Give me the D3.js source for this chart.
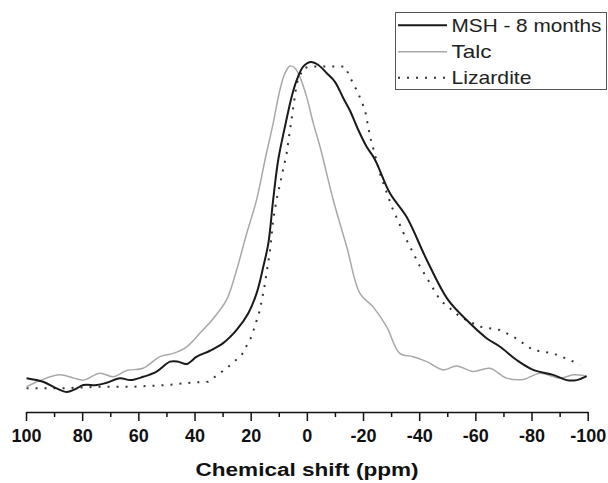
<!DOCTYPE html>
<html>
<head>
<meta charset="utf-8">
<script src="https://cdn.jsdelivr.net/npm/d3@7"></script>
<style>
  body { margin: 0; background: #fff; }
  svg { display: block; font-family: Arial, "Liberation Sans", sans-serif; }
</style>
</head>
<body>
<div id="chart"></div>
<script>
// chemical shift (ppm) and relative intensity for each spectrum
const mshShift = [99.8, 93.9, 89.1, 85.5, 82.6, 79.6, 74.8, 71.3, 66.5, 62.9, 58.3, 53.5, 48.7, 45.8, 42.8, 39.2, 34.5, 29.8, 25.0, 20.9, 17.9, 15.5, 13.7, 12.0, 10.2, 7.8, 5.4, 3.6, 1.3, -1.3, -4.1, -7.1, -10.0, -13.0, -15.5, -18.0, -21.3, -23.6, -24.9, -29.6, -35.5, -42.7, -50.3, -56.9, -64.0, -68.8, -74.7, -80.6, -87.7, -92.5, -96.1, -99.6];
const mshValue = [4.2, 3.1, 1.1, 0, 0.8, 2.1, 2.1, 2.8, 4.2, 3.6, 4.6, 6.2, 9.2, 9.2, 8.5, 10.7, 12.5, 14.8, 18.8, 23.8, 29.9, 38.0, 45.1, 58.2, 70.3, 80.4, 89.5, 94.5, 98.6, 100, 99.1, 96.6, 94.0, 89.0, 85.0, 80.0, 74.3, 71.4, 69.3, 60.2, 53.1, 40.0, 27.9, 21.8, 16.3, 13.7, 9.7, 6.7, 5.2, 3.6, 3.6, 4.8];

const talcShift = [99.8, 95.0, 87.9, 83.0, 79.6, 73.7, 68.9, 64.2, 58.3, 52.3, 47.6, 42.8, 38.1, 33.3, 28.6, 25.0, 21.4, 17.9, 14.9, 12.0, 9.6, 7.8, 6.0, 4.2, 2.5, 0.1, -2.3, -4.7, -9.4, -14.2, -18.9, -23.6, -28.4, -33.1, -37.9, -42.7, -48.6, -53.3, -59.2, -65.2, -71.1, -77.1, -83.0, -90.1, -94.9, -99.6];
const talcValue = [1.6, 3.5, 5.2, 4.2, 3.6, 5.7, 4.6, 6.5, 7.2, 10.7, 11.7, 13.7, 17.8, 22.3, 27.9, 37.0, 48.1, 58.2, 70.3, 81.4, 91.5, 96.6, 98.8, 98.1, 95.5, 89.5, 81.4, 74.3, 58.2, 44.0, 29.9, 25.8, 19.8, 11.7, 10.7, 9.2, 6.7, 7.9, 6.2, 7.2, 4.2, 3.8, 5.7, 4.2, 5.2, 4.8];

const lizShift = [99.8, 87.9, 73.7, 61.8, 49.9, 41.6, 35.1, 28.6, 23.2, 19.7, 16.7, 14.9, 13.1, 12.0, 10.8, 7.2, 4.8, 3.6, 1.3, -1.1, -13.6, -15.3, -18.3, -20.7, -22.5, -26.0, -30.2, -35.5, -40.3, -47.4, -54.5, -61.6, -68.7, -73.5, -80.6, -87.7, -93.7, -97.2];
const lizValue = [1.1, 1.1, 1.6, 1.6, 2.1, 2.8, 3.1, 7.2, 11.2, 16.8, 24.8, 32.9, 43.0, 52.1, 58.2, 72.3, 86.5, 93.5, 98.1, 98.6, 98.6, 95.5, 90.5, 85.5, 77.4, 66.3, 56.2, 46.1, 38.0, 27.9, 22.8, 19.8, 18.8, 16.8, 12.7, 11.7, 9.7, 8.2];

const seriesNames = ["MSH - 8 months", "Talc", "Lizardite"];
const majorTicks = [100, 80, 60, 40, 20, 0, -20, -40, -60, -80, -100];
const minorTicks = [90, 70, 50, 30, 10, -10, -30, -50, -70, -90];

const width = 608, height = 483;

const svg = d3.select("#chart").append("svg")
    .attr("width", width).attr("height", height);

// NMR convention: ppm runs from high (left) to low (right)
const x = d3.scaleLinear().domain([100, -100]).range([26, 587.7]);
const y = d3.scaleLinear().domain([0, 100]).range([392, 62]);

//turns two arrays into point objects
function zipPoints(xs, ys){
    return xs.map(function(v, i){ return {s: v, v: ys[i]}; });
}

const series = [
    {name: seriesNames[0], data: zipPoints(mshShift, mshValue), color: "#1a1a1a", w: 2, dash: null, curve: d3.curveCatmullRom, textW: 150},
    {name: seriesNames[1], data: zipPoints(talcShift, talcValue), color: "#a8a8a8", w: 1.5, dash: null, curve: d3.curveCatmullRom, textW: 40},
    {name: seriesNames[2], data: zipPoints(lizShift, lizValue), color: "#333", w: 2, dash: "2 7", curve: d3.curveLinear, textW: 80}
];

// draw lizardite first so the solid lines sit on top
[series[2], series[1], series[0]].forEach(function(sr){
    const line = d3.line()
        .x(function(d){ return x(d.s); })
        .y(function(d){ return y(d.v); })
        .curve(sr.curve);
    svg.append("path")
        .datum(sr.data)
        .attr("fill", "none")
        .attr("stroke", sr.color)
        .attr("stroke-width", sr.w)
        .attr("stroke-dasharray", sr.dash)
        .attr("d", line);
});

// bottom axis: minor ticks first, then the labelled major ticks
const axisY = 412;
svg.append("g")
    .attr("transform", "translate(0," + axisY + ")")
    .call(d3.axisBottom(x).tickValues(minorTicks).tickSize(5).tickSizeOuter(0).tickFormat(""))
    .call(function(g){ g.select(".domain").remove(); })
    .selectAll("line").attr("stroke", "#111").attr("stroke-width", 1.5);

const ax = svg.append("g")
    .attr("transform", "translate(0," + axisY + ")")
    .call(d3.axisBottom(x).tickValues(majorTicks).tickSize(9).tickSizeOuter(0).tickPadding(8)
        .tickFormat(function(d){ return String(d); }));
ax.select(".domain").attr("stroke", "#111").attr("stroke-width", 1.5);
ax.selectAll("line").attr("stroke", "#111").attr("stroke-width", 1.5);
ax.selectAll("text")
    .attr("font-size", 18)
    .attr("font-weight", "bold")
    .attr("font-family", "Arial, 'Liberation Sans', sans-serif")
    .attr("fill", "#111");

// axis title (the original lettering is a bit wider than plain Arial)
svg.append("text")
    .attr("x", 307).attr("y", 476)
    .attr("text-anchor", "middle")
    .attr("font-size", 18)
    .attr("font-weight", "bold")
    .attr("fill", "#111")
    .attr("textLength", 223)
    .attr("lengthAdjust", "spacingAndGlyphs")
    .text("Chemical shift (ppm)");

// legend box in the upper right
const legend = svg.append("g");
legend.append("rect")
    .attr("x", 395.5).attr("y", 12.5)
    .attr("width", 211).attr("height", 77)
    .attr("fill", "#fff")
    .attr("stroke", "#555").attr("stroke-width", 1);

const baselines = [31.7, 58.3, 84.3];
series.forEach(function(sr, i){
    legend.append("line")
        .attr("x1", 398).attr("x2", 447)
        .attr("y1", baselines[i] - 6.5).attr("y2", baselines[i] - 6.5)
        .attr("stroke", sr.color)
        .attr("stroke-width", sr.w)
        .attr("stroke-dasharray", sr.dash);
    legend.append("text")
        .attr("x", 451.5).attr("y", baselines[i])
        .attr("font-size", 19)
        .attr("fill", "#222")
        .attr("textLength", sr.textW)
        .attr("lengthAdjust", "spacingAndGlyphs")
        .text(sr.name);
});
</script>
</body>
</html>
